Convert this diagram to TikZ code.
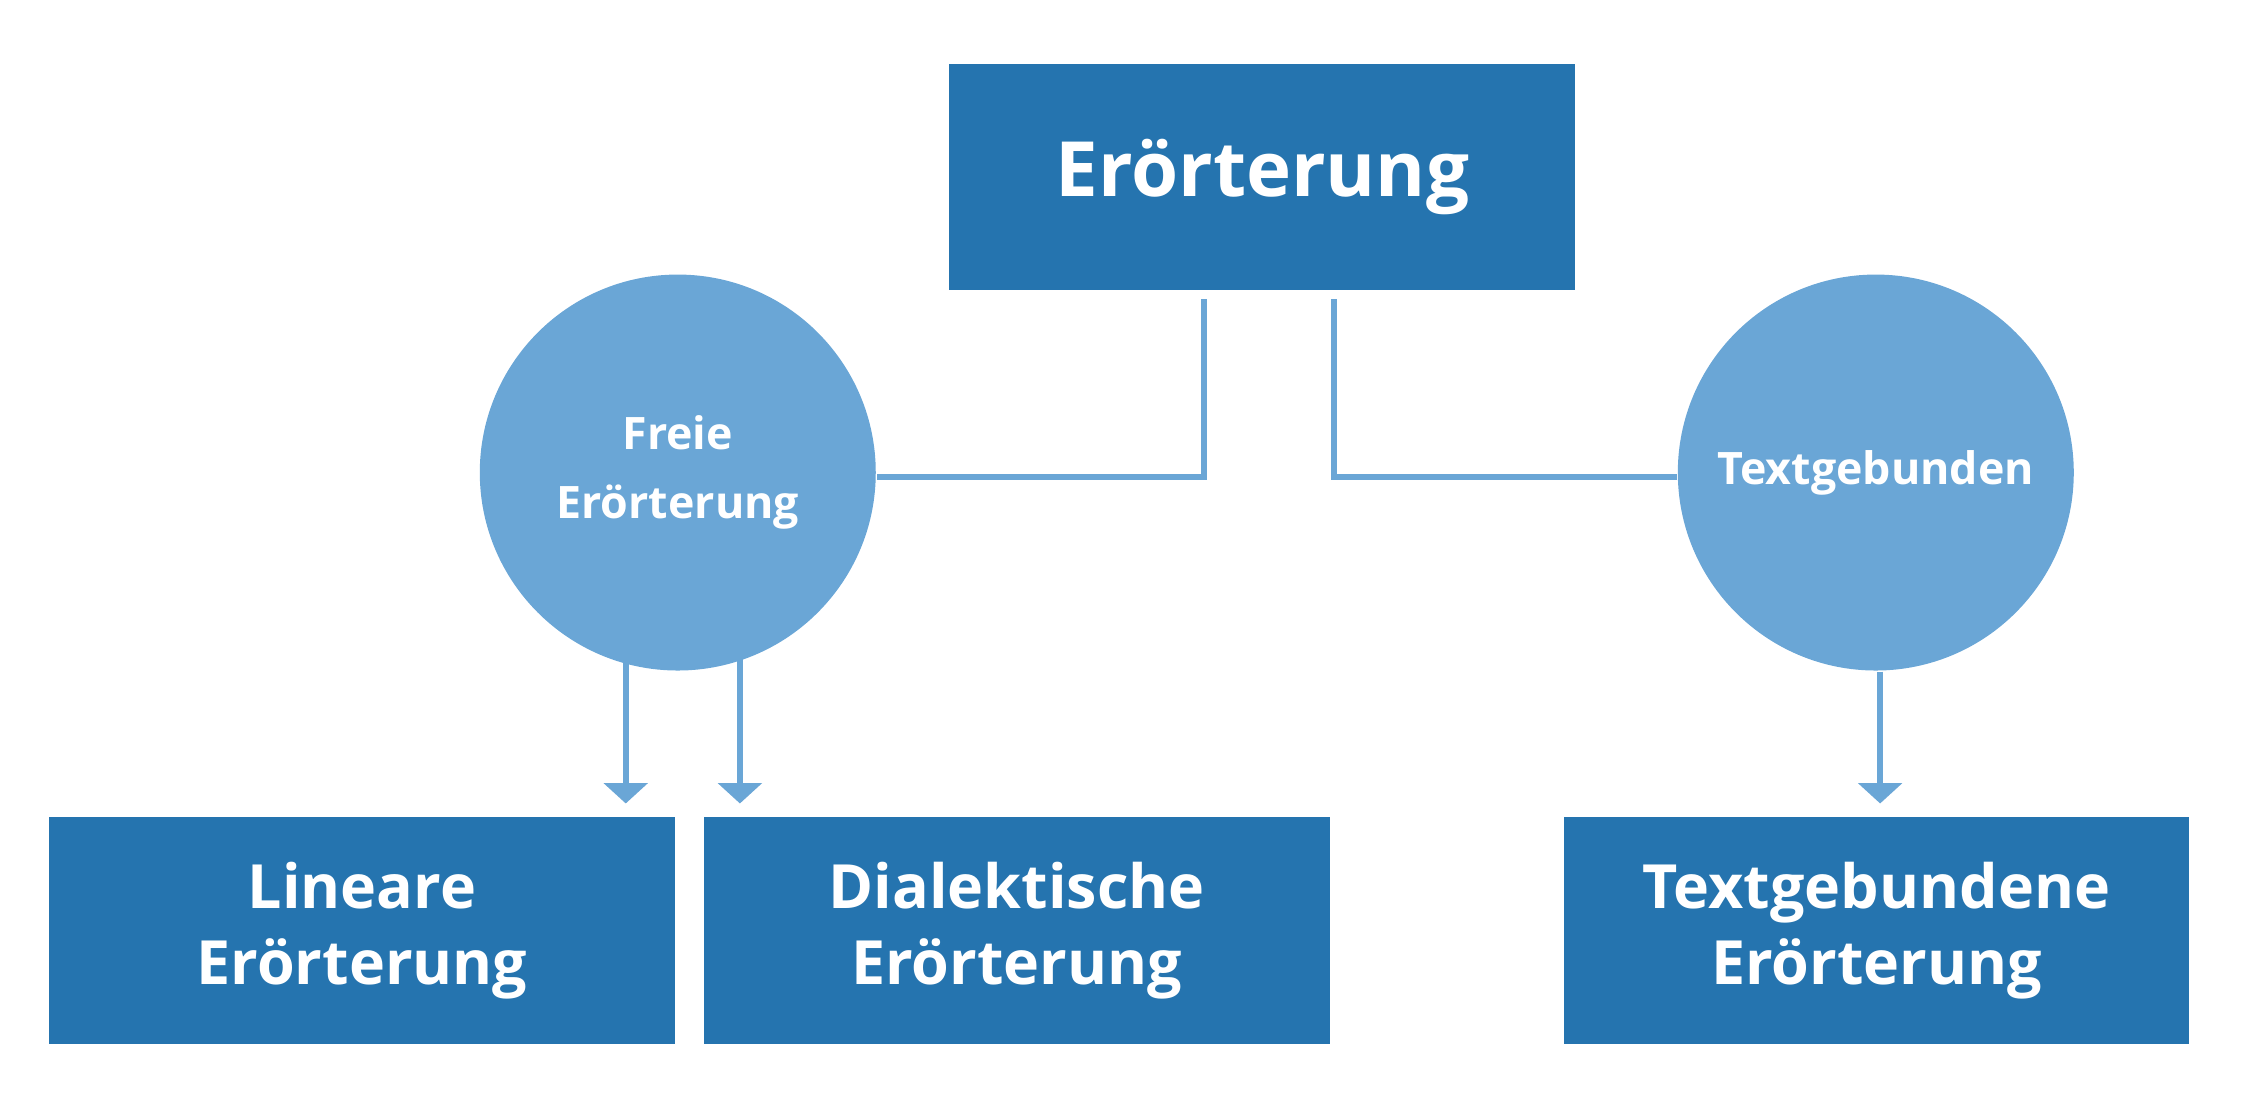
\documentclass[tikz,border=0pt]{standalone}
\usepackage{fontspec}
\setmainfont{Open Sans}
\usetikzlibrary{arrows.meta}
\definecolor{boxblue}{HTML}{2574AF}
\definecolor{lightblue}{HTML}{6AA6D6}
\begin{document}
\begin{tikzpicture}[x=0.01cm,y=-0.01cm,
  box/.style={fill=boxblue,minimum width=433*0.01cm,minimum height=157*0.01cm,text=white,font=\bfseries\fontsize{12}{14.8}\selectfont,align=center,inner sep=0pt},
  circ/.style={circle,fill=lightblue,minimum size=274*0.01cm,text=white,font=\bfseries\fontsize{8.8}{13.5}\selectfont,align=center,inner sep=0pt},
  conn/.style={draw=lightblue,line width=1.1pt},
  arr/.style={conn,-{Triangle[width=8.5pt,length=4pt]}}]
\useasboundingbox (0,0) rectangle (1568,774);
\node[box,font=\bfseries\fontsize{15}{18}\selectfont] (top) at (873.5,122.5) {Erörterung};
\node[circ] (free) at (469,327) {Freie\\Erörterung};
\node[circ] (text) at (1298,327) {Textgebunden};
\node[box] (lin) at (250.5,644) {Lineare\\Erörterung};
\node[box] (dia) at (703.5,644) {Dialektische\\Erörterung};
\node[box] (tgb) at (1298.5,644) {Textgebundene\\Erörterung};
\coordinate (t1) at (833,207); \coordinate (k1) at (833,330);
\coordinate (t2) at (923,207); \coordinate (k2) at (923,330);
\draw[conn] (t1) -- (k1) -- (free.east |- k1);
\draw[conn] (t2) -- (k2) -- (text.west |- k2);
\coordinate (a1) at (433,455); \coordinate (b1) at (433,556);
\coordinate (a2) at (512,455); \coordinate (b2) at (512,556);
\coordinate (b3) at (1301,556);
\draw[arr] (a1) -- (b1);
\draw[arr] (a2) -- (b2);
\draw[arr] (text.south -| b3) -- (b3);
\end{tikzpicture}
\end{document}
